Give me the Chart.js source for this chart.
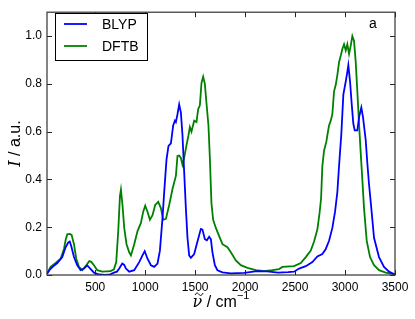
<!DOCTYPE html>
<html>
<head>
<meta charset="utf-8">
<script src="https://cdn.jsdelivr.net/npm/chart.js@4"></script>
<style>
html, body { margin: 0; padding: 0; background: #fff; }
</style>
</head>
<body>
<canvas id="spectrum" width="415" height="319"></canvas>
<script>
"use strict"

// BLYP spectrum (wavenumber / intensity)
const blypX = [17, 50, 90, 120, 170, 203, 230, 245, 260, 287, 320, 353, 387, 420, 443, 487, 537, 600, 650, 687, 717, 740, 770, 790, 807, 840, 890, 940, 970, 995, 1023, 1057, 1090, 1123, 1147, 1173, 1190, 1213, 1233, 1257, 1280, 1297, 1307, 1323, 1340, 1357, 1373, 1390, 1407, 1423, 1440, 1457, 1490, 1523, 1557, 1573, 1597, 1617, 1640, 1657, 1673, 1697, 1723, 1773, 1857, 1990, 2120, 2220, 2330, 2430, 2490, 2540, 2607, 2673, 2723, 2773, 2807, 2840, 2873, 2900, 2923, 2940, 2963, 2983, 3007, 3023, 3033, 3050, 3067, 3083, 3097, 3123, 3140, 3163, 3180, 3207, 3223, 3240, 3257, 3290, 3340, 3390, 3440, 3490, 3500]
const blypY = [0.005, 0.025, 0.04, 0.05, 0.075, 0.116, 0.136, 0.14, 0.12, 0.075, 0.04, 0.02, 0.027, 0.04, 0.03, 0.01, 0.002, 0.0, 0.003, 0.01, 0.014, 0.027, 0.048, 0.042, 0.027, 0.014, 0.02, 0.054, 0.08, 0.1, 0.068, 0.041, 0.034, 0.048, 0.102, 0.238, 0.347, 0.483, 0.54, 0.551, 0.626, 0.646, 0.64, 0.673, 0.714, 0.68, 0.585, 0.43, 0.279, 0.156, 0.082, 0.072, 0.088, 0.14, 0.193, 0.19, 0.15, 0.145, 0.16, 0.15, 0.095, 0.041, 0.02, 0.011, 0.007, 0.009, 0.016, 0.015, 0.01, 0.012, 0.014, 0.027, 0.037, 0.054, 0.078, 0.088, 0.109, 0.143, 0.197, 0.265, 0.347, 0.456, 0.592, 0.755, 0.81, 0.85, 0.878, 0.81, 0.714, 0.633, 0.605, 0.605, 0.66, 0.701, 0.66, 0.564, 0.469, 0.38, 0.306, 0.156, 0.075, 0.034, 0.014, 0.004, 0.003]

// DFTB spectrum
const dftbX = [17, 53, 103, 153, 187, 205, 220, 245, 263, 287, 310, 337, 370, 410, 440, 460, 487, 520, 570, 653, 687, 710, 730, 747, 757, 773, 790, 813, 840, 857, 890, 923, 957, 980, 1000, 1023, 1047, 1073, 1100, 1130, 1157, 1180, 1207, 1240, 1273, 1307, 1323, 1340, 1357, 1373, 1390, 1407, 1433, 1447, 1463, 1490, 1513, 1530, 1547, 1563, 1580, 1597, 1613, 1633, 1647, 1663, 1680, 1707, 1740, 1773, 1823, 1857, 1907, 1957, 2023, 2107, 2190, 2273, 2340, 2373, 2490, 2557, 2607, 2657, 2690, 2723, 2745, 2760, 2773, 2790, 2813, 2823, 2840, 2857, 2873, 2890, 2907, 2923, 2940, 2957, 2973, 2990, 3007, 3023, 3040, 3057, 3073, 3090, 3107, 3123, 3140, 3157, 3173, 3190, 3217, 3250, 3290, 3340, 3407, 3490, 3500]
const dftbY = [0.005, 0.034, 0.05, 0.068, 0.109, 0.15, 0.17, 0.172, 0.168, 0.129, 0.068, 0.034, 0.02, 0.041, 0.058, 0.055, 0.041, 0.02, 0.014, 0.016, 0.024, 0.054, 0.184, 0.33, 0.357, 0.29, 0.197, 0.129, 0.095, 0.082, 0.129, 0.184, 0.218, 0.265, 0.29, 0.265, 0.231, 0.25, 0.293, 0.306, 0.28, 0.231, 0.235, 0.293, 0.36, 0.415, 0.498, 0.5, 0.49, 0.462, 0.49, 0.53, 0.585, 0.619, 0.6, 0.646, 0.64, 0.694, 0.71, 0.803, 0.83, 0.8, 0.72, 0.626, 0.49, 0.3, 0.231, 0.197, 0.163, 0.129, 0.116, 0.095, 0.061, 0.041, 0.03, 0.02, 0.016, 0.02, 0.025, 0.034, 0.037, 0.05, 0.075, 0.102, 0.14, 0.19, 0.26, 0.32, 0.456, 0.52, 0.558, 0.585, 0.626, 0.646, 0.673, 0.769, 0.796, 0.837, 0.891, 0.918, 0.946, 0.966, 0.94, 0.966, 0.925, 0.96, 1.0, 0.98, 0.891, 0.769, 0.633, 0.51, 0.4, 0.279, 0.143, 0.075, 0.041, 0.02, 0.01, 0.004, 0.003]

const seriesNames = ["BLYP", "DFTB"]
const xTicks = [500, 1000, 1500, 2000, 2500, 3000, 3500]
const yTicks = [0.0, 0.2, 0.4, 0.6, 0.8, 1.0]

function toPoints(xs, ys) {
    return xs.map((x, i) => ({x: x, y: ys[i]}))
}

const tickFont = {family: "Liberation Sans", size: 12}

// frame, inward ticks on all four sides, titles and legend box (matplotlib look)
const decor = {
    id: "decor",
    afterDatasetsDraw(chart) {
        const ctx = chart.ctx
        const a = chart.chartArea
        const xs = chart.scales.x
        const ys = chart.scales.y
        ctx.save()
        ctx.strokeStyle = "#222"
        ctx.lineWidth = 1
        ctx.beginPath()
        xTicks.forEach(v => {
            const p = Math.round(xs.getPixelForValue(v)) + 0.5
            ctx.moveTo(p, a.bottom); ctx.lineTo(p, a.bottom - 5)
            ctx.moveTo(p, a.top); ctx.lineTo(p, a.top + 5)
        })
        yTicks.forEach(v => {
            const p = Math.round(ys.getPixelForValue(v)) + 0.5
            ctx.moveTo(a.left, p); ctx.lineTo(a.left + 5, p)
            ctx.moveTo(a.right, p); ctx.lineTo(a.right - 5, p)
        })
        ctx.stroke()
        ctx.strokeStyle = "#333"
        ctx.lineWidth = 1.2
        ctx.strokeRect(a.left, a.top, a.right - a.left, a.bottom - a.top)
        ctx.restore()
    },
    afterDraw(chart) {
        const ctx = chart.ctx
        const a = chart.chartArea
        ctx.save()
        ctx.fillStyle = "#000"
        ctx.textBaseline = "alphabetic"

        // x title: nu tilde / cm^-1
        const cx = (a.left + a.right) / 2
        const base = 307
        ctx.font = "italic 16px 'DejaVu Serif'"
        const nuW = ctx.measureText("ν").width
        ctx.font = "16px 'Liberation Sans'"
        const restW = ctx.measureText(" / cm").width
        ctx.font = "11px 'Liberation Sans'"
        const supW = ctx.measureText("−1").width
        let x0 = cx - (nuW + restW + supW) / 2
        ctx.font = "italic 16px 'DejaVu Serif'"
        ctx.fillText("ν", x0, base)
        // tilde accent as a small wave above the nu
        ctx.strokeStyle = "#000"
        ctx.lineWidth = 1
        ctx.beginPath()
        const tx = x0 + 2.5, ty = base - 13
        ctx.moveTo(tx, ty + 1)
        ctx.bezierCurveTo(tx + 1.5, ty - 2, tx + 3, ty - 1, tx + 4, ty + 0.5)
        ctx.bezierCurveTo(tx + 5, ty + 2, tx + 6.5, ty + 2, tx + 8, ty - 1)
        ctx.stroke()
        ctx.font = "16px 'Liberation Sans'"
        ctx.fillText(" / cm", x0 + nuW, base)
        ctx.font = "11px 'Liberation Sans'"
        ctx.fillText("−1", x0 + nuW + restW, base - 8)

        // y title: I / a.u.
        ctx.translate(20, (a.top + a.bottom) / 2)
        ctx.rotate(-Math.PI / 2)
        ctx.font = "italic 16px 'DejaVu Serif'"
        const iW = ctx.measureText("I").width
        ctx.font = "16px 'Liberation Sans'"
        const auW = ctx.measureText(" / a.u.").width
        let y0 = -(iW + auW) / 2
        ctx.font = "italic 16px 'DejaVu Serif'"
        ctx.fillText("I", y0, 0)
        ctx.font = "16px 'Liberation Sans'"
        ctx.fillText(" / a.u.", y0 + iW, 0)
        ctx.setTransform(1, 0, 0, 1, 0, 0)

        // panel letter
        ctx.font = "14px 'Liberation Sans'"
        ctx.textAlign = "center"
        ctx.textBaseline = "middle"
        ctx.fillText("a", 373, 24)

        // legend
        ctx.textAlign = "left"
        ctx.fillStyle = "#fff"
        ctx.fillRect(55, 13, 92, 47)
        ctx.strokeStyle = "#000"
        ctx.lineWidth = 1
        ctx.strokeRect(55.5, 13.5, 92, 47)
        chart.data.datasets.forEach((ds, i) => {
            const ly = 24 + i * 22
            ctx.strokeStyle = ds.borderColor
            ctx.lineWidth = 1.8
            ctx.beginPath()
            ctx.moveTo(64, ly); ctx.lineTo(87, ly)
            ctx.stroke()
            ctx.fillStyle = "#000"
            ctx.font = "14px 'Liberation Sans'"
            ctx.fillText(ds.label, 102, ly + 1)
        })
        ctx.restore()
    }
}

new Chart(document.getElementById("spectrum"), {
    type: "line",
    data: {
        datasets: [{
            label: seriesNames[0],
            data: toPoints(blypX, blypY),
            borderColor: "#0000ff",
            borderWidth: 1.8,
            pointRadius: 0,
            tension: 0
        }, {
            label: seriesNames[1],
            data: toPoints(dftbX, dftbY),
            borderColor: "#008000",
            borderWidth: 1.8,
            pointRadius: 0,
            tension: 0
        }]
    },
    options: {
        responsive: false,
        animation: false,
        layout: {padding: {top: 5, right: 20, left: 0, bottom: 0}},
        plugins: {legend: {display: false}, tooltip: {enabled: false}},
        scales: {
            x: {
                type: "linear",
                min: 17,
                max: 3500,
                grid: {display: false, drawTicks: false},
                border: {display: false},
                afterBuildTicks: s => { s.ticks = xTicks.map(v => ({value: v})) },
                afterFit: s => { s.height = 44 },
                ticks: {font: tickFont, color: "#000", padding: 5, maxRotation: 0,
                    callback: v => String(v)}
            },
            y: {
                min: 0,
                max: 1.1,
                grid: {display: false, drawTicks: false},
                border: {display: false},
                afterBuildTicks: s => { s.ticks = yTicks.map(v => ({value: v})) },
                afterFit: s => { s.width = 47 },
                ticks: {font: tickFont, color: "#000", padding: 5,
                    callback: v => v.toFixed(1)}
            }
        }
    },
    plugins: [decor]
})
</script>
</body>
</html>
